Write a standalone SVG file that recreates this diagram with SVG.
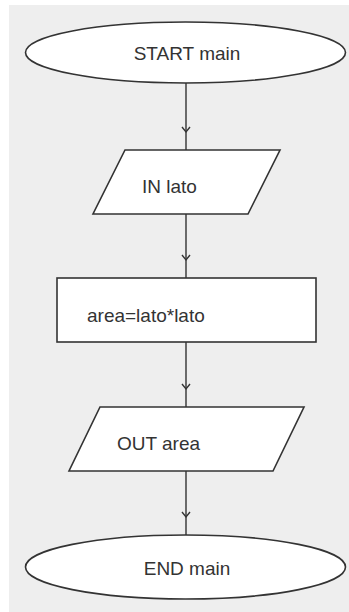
<svg xmlns="http://www.w3.org/2000/svg" width="349" height="612" viewBox="0 0 349 612">
<style>
.shape{fill:#ffffff;stroke:#333333;stroke-width:1.6}
.lbl{font-family:"Liberation Sans",Arial,sans-serif;font-size:19px;fill:#333333}
.conn{fill:none;stroke:#333333;stroke-width:1.4;marker-mid:url(#chev)}
</style>
<defs>
<marker id="chev" viewBox="-7 -6 14 12" refX="0" refY="0" markerWidth="14" markerHeight="12" markerUnits="userSpaceOnUse" orient="auto">
<path d="M-5,-4 L0,0 L-5,4" fill="none" stroke="#333333" stroke-width="1.4"/>
</marker>
</defs>
<rect x="9" y="5" width="340" height="607" fill="#eeeeee"/>
<g id="connectors">
<path class="conn" d="M186,83 L186,132 L186,150"/>
<path class="conn" d="M186,214 L186,260 L186,278"/>
<path class="conn" d="M186,342 L186,389 L186,407"/>
<path class="conn" d="M186,471 L186,517 L186,535"/>
</g>
<g id="start">
<ellipse class="shape" cx="185.5" cy="52.5" rx="160" ry="30.5"/>
<text class="lbl" x="187" y="60" text-anchor="middle">START main</text>
</g>
<g id="in">
<polygon class="shape" points="125,150 280,150 248,214 93,214"/>
<text class="lbl" x="142" y="193">IN lato</text>
</g>
<g id="assign">
<rect class="shape" x="57" y="278" width="259" height="64"/>
<text class="lbl" x="87" y="322">area=lato*lato</text>
</g>
<g id="out">
<polygon class="shape" points="100,407 304,407 273,471 69,471"/>
<text class="lbl" x="117" y="450">OUT area</text>
</g>
<g id="end">
<ellipse class="shape" cx="185.5" cy="567" rx="160" ry="32"/>
<text class="lbl" x="187" y="575" text-anchor="middle">END main</text>
</g>
</svg>
